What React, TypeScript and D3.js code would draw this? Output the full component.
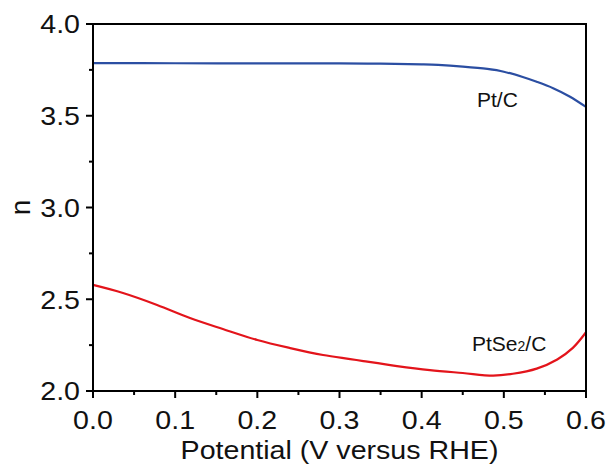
import * as d3 from 'd3';

// potential (V vs RHE) and electron transfer number n
const ptcV = [0, 0.1, 0.2, 0.3, 0.35, 0.4, 0.42, 0.45, 0.48, 0.5, 0.523, 0.54, 0.56, 0.58, 0.6];
const ptcN = [3.787, 3.786, 3.785, 3.785, 3.784, 3.78, 3.777, 3.768, 3.755, 3.74, 3.711, 3.685, 3.65, 3.605, 3.548];

const ptseV = [0, 0.0365, 0.078, 0.118, 0.158, 0.2, 0.24, 0.28, 0.313, 0.329, 0.37, 0.41, 0.45, 0.487, 0.511, 0.54, 0.565, 0.584, 0.6];
const ptseN = [2.578, 2.534, 2.469, 2.398, 2.338, 2.278, 2.234, 2.196, 2.174, 2.163, 2.136, 2.114, 2.098, 2.084, 2.094, 2.122, 2.172, 2.235, 2.32];

const xTicks = [0, 0.1, 0.2, 0.3, 0.4, 0.5, 0.6];
const xMinor = [0.05, 0.15, 0.25, 0.35, 0.45, 0.55];
const yTicks = [2.0, 2.5, 3.0, 3.5, 4.0];
const yMinor = [2.25, 2.75, 3.25, 3.75];

export default function App() {
  const width = 611;
  const height = 466;
  const margin = { top: 24, right: 25, bottom: 75, left: 93 };

  const x = d3.scaleLinear().domain([0, 0.6]).range([margin.left, width - margin.right]);
  const y = d3.scaleLinear().domain([2, 4]).range([height - margin.bottom, margin.top]);

  const line = d3
    .line<[number, number]>()
    .x((d) => x(d[0]))
    .y((d) => y(d[1]))
    .curve(d3.curveCatmullRom.alpha(0.5));

  const ptc = ptcV.map((v, i) => [v, ptcN[i]] as [number, number]);
  const ptse = ptseV.map((v, i) => [v, ptseN[i]] as [number, number]);

  const font = 'Liberation Sans, Arial, sans-serif';
  const x0 = margin.left;
  const x1 = width - margin.right;
  const y0 = height - margin.bottom;
  const y1 = margin.top;
  const sx = 1.1; // labels in the figure are a little wide

  return (
    <svg
      width={width}
      height={height}
      style={{ position: 'absolute', left: 0, top: 0, background: '#fff' }}
      fontFamily={font}
    >
      <path d={line(ptc) || ''} fill='none' stroke='#2b4ea2' strokeWidth={2.2} />
      <path d={line(ptse) || ''} fill='none' stroke='#e3141b' strokeWidth={2.2} />

      <rect x={x0} y={y1} width={x1 - x0} height={y0 - y1} fill='none' stroke='#000' strokeWidth={2} />

      {xTicks.map((t) => (
        <g key={'x' + t}>
          <line x1={x(t)} x2={x(t)} y1={y0} y2={y0 + 7} stroke='#000' strokeWidth={2} />
          <text transform={`translate(${x(t)},429) scale(${sx},1)`} fontSize={26} textAnchor='middle' fill='#111'>
            {t.toFixed(1)}
          </text>
        </g>
      ))}
      {xMinor.map((t) => (
        <line key={'xm' + t} x1={x(t)} x2={x(t)} y1={y0} y2={y0 + 4} stroke='#000' strokeWidth={2} />
      ))}

      {yTicks.map((t) => (
        <g key={'y' + t}>
          <line x1={x0 - 7} x2={x0} y1={y(t)} y2={y(t)} stroke='#000' strokeWidth={2} />
          <text transform={`translate(80,${y(t)}) scale(${sx},1)`} dy='0.36em' fontSize={26} textAnchor='end' fill='#111'>
            {t.toFixed(1)}
          </text>
        </g>
      ))}
      {yMinor.map((t) => (
        <line key={'ym' + t} x1={x0 - 4} x2={x0} y1={y(t)} y2={y(t)} stroke='#000' strokeWidth={2} />
      ))}

      <text transform={`translate(${(x0 + x1) / 2},459) scale(${sx},1)`} fontSize={26} textAnchor='middle' fill='#111'>
        Potential (V versus RHE)
      </text>
      <text transform={`translate(30,${y(3)}) rotate(-90)`} fontSize={28} textAnchor='middle' fill='#111'>
        n
      </text>

      <text x={477} y={107} fontSize={21} fill='#111'>
        Pt/C
      </text>
      <text x={472} y={351} fontSize={21} fill='#111'>
        PtSe<tspan fontSize={14}>2</tspan>/C
      </text>
    </svg>
  );
}
